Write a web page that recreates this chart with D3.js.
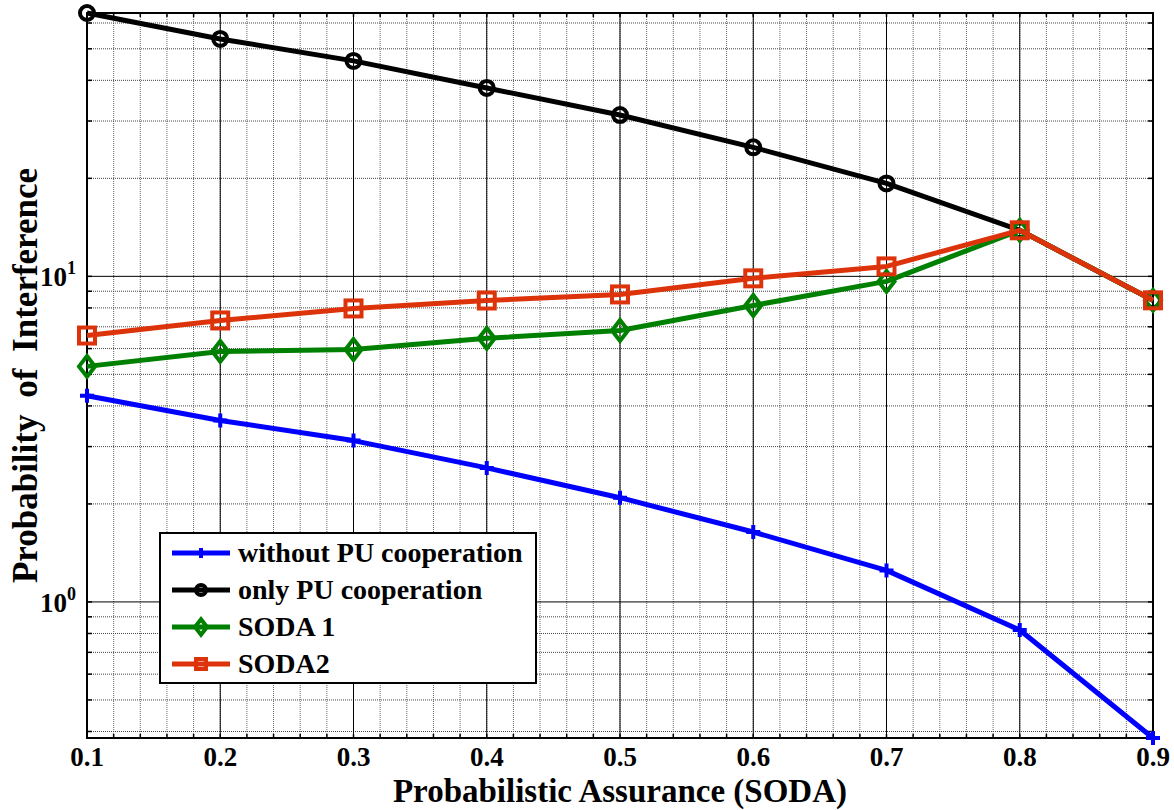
<html>
<head>
<script src="https://d3js.org/d3.v7.min.js"></script>
<title>Probability of Interference</title>
<style>
  body { margin: 0; background: #fff; }
  text { font-family: "Liberation Serif", "DejaVu Serif", serif; font-weight: bold; }
</style>
</head>
<body>
<div class="viz"></div>
<script type="text/javascript">
// data
var assurance = [0.1, 0.2, 0.3, 0.4, 0.5, 0.6, 0.7, 0.8, 0.9];
var withoutPU = [4.30, 3.61, 3.13, 2.58, 2.09, 1.64, 1.25, 0.82, 0.382];
var onlyPU    = [64.4, 53.6, 45.9, 37.9, 31.3, 24.9, 19.3, 13.85, 8.44];
var soda1     = [5.29, 5.88, 5.96, 6.45, 6.82, 8.14, 9.65, 13.85, 8.44];
var soda2     = [6.58, 7.32, 7.97, 8.43, 8.80, 9.86, 10.73, 13.85, 8.44];
var seriesNames = ["without PU cooperation", "only PU cooperation", "SODA 1", "SODA2"];
var xTickLabels = ["0.1", "0.2", "0.3", "0.4", "0.5", "0.6", "0.7", "0.8", "0.9"];
var yMajorTicks = [1, 10];

var width = 1174, height = 810;
var plotL = 87, plotR = 1153, plotT = 13, plotB = 738;

var svg = d3.select(".viz").append("svg")
    .attr("width", width)
    .attr("height", height);

var xScale = d3.scaleLinear().domain([0.1, 0.9]).range([plotL, plotR]);
var yScale = d3.scaleLog()
    .domain([d3.min(withoutPU), d3.max(onlyPU)])
    .range([plotB, plotT]);

// minor grid
var xMinor = d3.range(0, 41).map(function(i){ return 0.1 + i * 0.02; });
var yMinor = yScale.ticks().filter(function(d){ return yMajorTicks.indexOf(d) < 0; });

var grid = svg.append("g");
grid.selectAll(".vminor").data(xMinor).enter().append("line")
    .attr("x1", function(d){ return xScale(d); })
    .attr("x2", function(d){ return xScale(d); })
    .attr("y1", plotT).attr("y2", plotB)
    .attr("stroke", "#666").attr("stroke-width", 1)
    .attr("stroke-dasharray", "1,1");
grid.selectAll(".hminor").data(yMinor).enter().append("line")
    .attr("x1", plotL).attr("x2", plotR)
    .attr("y1", function(d){ return yScale(d); })
    .attr("y2", function(d){ return yScale(d); })
    .attr("stroke", "#444").attr("stroke-width", 1)
    .attr("stroke-dasharray", "1,1");
// major grid
grid.selectAll(".vmajor").data(assurance).enter().append("line")
    .attr("x1", function(d){ return xScale(d); })
    .attr("x2", function(d){ return xScale(d); })
    .attr("y1", plotT).attr("y2", plotB)
    .attr("stroke", "#000").attr("stroke-width", 1);
grid.selectAll(".hmajor").data(yMajorTicks).enter().append("line")
    .attr("x1", plotL).attr("x2", plotR)
    .attr("y1", function(d){ return yScale(d); })
    .attr("y2", function(d){ return yScale(d); })
    .attr("stroke", "#000").attr("stroke-width", 1);

// inside tick marks on all sides
var ticks = svg.append("g").attr("stroke", "#000").attr("stroke-width", 1.5);
ticks.selectAll(".tt").data(xMinor).enter().append("line")
    .attr("x1", function(d){ return xScale(d); }).attr("x2", function(d){ return xScale(d); })
    .attr("y1", plotT).attr("y2", plotT + 4);
ticks.selectAll(".tb").data(xMinor).enter().append("line")
    .attr("x1", function(d){ return xScale(d); }).attr("x2", function(d){ return xScale(d); })
    .attr("y1", plotB).attr("y2", plotB - 4);
ticks.selectAll(".tl").data(yScale.ticks()).enter().append("line")
    .attr("x1", plotL).attr("x2", plotL + 5)
    .attr("y1", function(d){ return yScale(d); }).attr("y2", function(d){ return yScale(d); });
ticks.selectAll(".tr").data(yScale.ticks()).enter().append("line")
    .attr("x1", plotR).attr("x2", plotR - 5)
    .attr("y1", function(d){ return yScale(d); }).attr("y2", function(d){ return yScale(d); });

// plot frame
svg.append("rect")
    .attr("x", plotL).attr("y", plotT)
    .attr("width", plotR - plotL).attr("height", plotB - plotT)
    .attr("fill", "none").attr("stroke", "#000").attr("stroke-width", 2);

// x tick labels
svg.append("g").selectAll("text").data(assurance).enter().append("text")
    .attr("x", function(d){ return xScale(d); })
    .attr("y", plotB + 28)
    .attr("text-anchor", "middle")
    .attr("font-size", 27)
    .text(function(d, i){ return xTickLabels[i]; });

// y tick labels 10^n
var yl = svg.append("g").selectAll("text").data(yMajorTicks).enter().append("text")
    .attr("x", 76)
    .attr("y", function(d){ return yScale(d) + 10; })
    .attr("text-anchor", "end")
    .attr("font-size", 27);
yl.append("tspan").text("10");
yl.append("tspan").attr("dy", -12).attr("font-size", 18)
    .text(function(d){ return Math.round(Math.log10(d)); });

// axis titles
svg.append("text")
    .attr("x", (plotL + plotR) / 2)
    .attr("y", 802)
    .attr("text-anchor", "middle")
    .attr("font-size", 33)
    .text("Probabilistic Assurance (SODA)");
svg.append("text")
    .attr("transform", "translate(37," + (plotT + plotB) / 2 + ") rotate(-90)")
    .attr("text-anchor", "middle")
    .attr("font-size", 35)
    .attr("word-spacing", 8)
    .text("Probability of Interference");

// series
var series = [
  {name: seriesNames[0], values: withoutPU, color: "#0000ff", marker: "plus"},
  {name: seriesNames[1], values: onlyPU,    color: "#000000", marker: "circle"},
  {name: seriesNames[2], values: soda1,     color: "#008000", marker: "diamond"},
  {name: seriesNames[3], values: soda2,     color: "#dd330b", marker: "square"}
];

var line = d3.line()
    .x(function(d){ return xScale(d[0]); })
    .y(function(d){ return yScale(d[1]); });

function drawMarker(g, type, color, s) {
  if (type === "plus") {
    g.append("path").attr("d", "M" + (-s) + ",0H" + s + "M0," + (-s) + "V" + s)
      .attr("stroke", color).attr("stroke-width", 4).attr("fill", "none");
  } else if (type === "circle") {
    g.append("circle").attr("r", s)
      .attr("stroke", color).attr("stroke-width", 4).attr("fill", "none");
  } else if (type === "diamond") {
    g.append("path").attr("d", "M0," + (-s * 1.3) + "L" + s + ",0L0," + (s * 1.3) + "L" + (-s) + ",0Z")
      .attr("stroke", color).attr("stroke-width", 4).attr("fill", "none");
  } else if (type === "square") {
    g.append("rect").attr("x", -s).attr("y", -s).attr("width", 2 * s).attr("height", 2 * s)
      .attr("stroke", color).attr("stroke-width", 4).attr("fill", "none");
  }
}

var sizes = {plus: 7, circle: 7, diamond: 8, square: 8};

series.forEach(function(s){
  var pts = assurance.map(function(x, i){ return [x, s.values[i]]; });
  svg.append("path")
      .datum(pts)
      .attr("d", line)
      .attr("fill", "none")
      .attr("stroke", s.color)
      .attr("stroke-width", 5)
      .attr("stroke-linejoin", "round");
  svg.append("g").selectAll("g").data(pts).enter().append("g")
      .attr("transform", function(d){ return "translate(" + xScale(d[0]) + "," + yScale(d[1]) + ")"; })
      .each(function(){ drawMarker(d3.select(this), s.marker, s.color, sizes[s.marker]); });
});

// legend
var lg = svg.append("g").attr("transform", "translate(160,533)");
lg.append("rect")
    .attr("width", 376).attr("height", 150)
    .attr("fill", "#fff").attr("stroke", "#000").attr("stroke-width", 2);
var items = lg.selectAll(".item").data(series).enter().append("g")
    .attr("transform", function(d, i){ return "translate(0," + (20 + i * 37) + ")"; });
items.append("line")
    .attr("x1", 12).attr("x2", 70).attr("y1", 0).attr("y2", 0)
    .attr("stroke", function(d){ return d.color; })
    .attr("stroke-width", 5);
items.append("g").attr("transform", "translate(41,0)")
    .each(function(d){ drawMarker(d3.select(this), d.marker, d.color, d.marker === "diamond" ? 6 : 5); });
items.append("text")
    .attr("x", 78).attr("y", 9)
    .attr("font-size", 28)
    .text(function(d){ return d.name; });
</script>
</body>
</html>
